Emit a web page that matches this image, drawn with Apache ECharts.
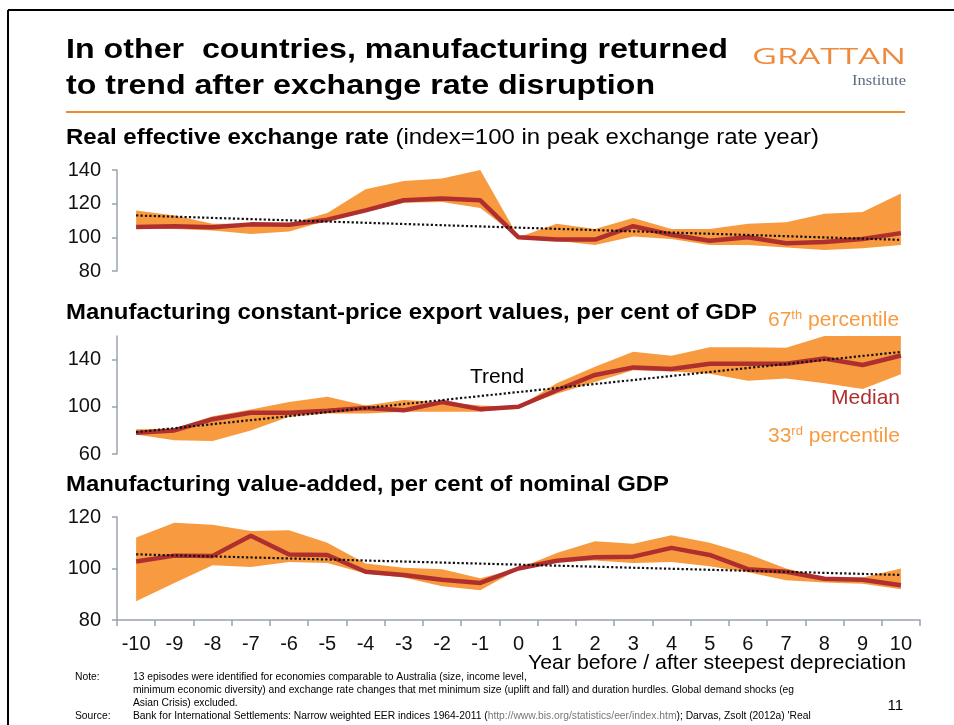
<!DOCTYPE html>
<html>
<head>
<meta charset="utf-8">
<script src="https://cdn.jsdelivr.net/npm/echarts@6/dist/echarts.min.js"></script>
<style>
  html, body { margin: 0; padding: 0; background: #fff; }
  #chart { width: 954px; height: 725px; }
</style>
</head>
<body>
<div id="chart"></div>
<script>
// years before / after steepest depreciation
const years = ['-10', '-9', '-8', '-7', '-6', '-5', '-4', '-3', '-2', '-1', '0',
  '1', '2', '3', '4', '5', '6', '7', '8', '9', '10'];

// Real effective exchange rate (index = 100 in peak year)
const reerMedian = [106.2, 106.6, 106, 107.7, 107.5, 110.5, 116, 122, 123, 122, 100,
  98.7, 98.7, 106.6, 101.5, 98, 100, 96.5, 97.2, 99, 102.5];
const reerP67 = [116, 113, 108, 108, 108, 114.5, 128.5, 133.5, 135, 140, 100,
  108, 105, 111.5, 105, 105, 108, 109, 114, 115, 126];
const reerP33 = [105, 105, 104, 102, 103.5, 110, 115, 120.5, 121, 117.5, 100,
  98, 95.5, 100.5, 99, 95.5, 95.5, 94, 92.5, 93.5, 95.5];
const reerTrend = [113, 98.5]; // at -10 and 10

// Manufacturing constant-price export values, per cent of GDP
const expMedian = [77.9, 80, 89.5, 95, 95, 96.6, 99, 97, 104, 98, 100,
  114, 127, 133.4, 132, 136.5, 136.5, 136.5, 141, 135.4, 143.5];
const expP67 = [81, 81.6, 92, 97.7, 104, 108.5, 101, 105.7, 104, 101, 100,
  120, 134, 146.7, 143.3, 150.4, 150.4, 150, 160, 160, 160];
const expP33 = [76.5, 71.7, 71, 80, 91.5, 94.3, 94.3, 95.7, 95.7, 95.7, 99,
  111, 121, 131, 130, 128, 122, 124, 120, 115, 127.5];
const expTrend = [78.5, 146.5];

// Manufacturing value-added, per cent of nominal GDP
const vaMedian = [102.75, 105, 104.9, 112.75, 105.4, 105.25, 98.75, 97.5, 95.6, 94.4, 100,
  103, 104.4, 104.6, 108, 105.25, 99.75, 98.75, 96, 95.6, 93.5];
const vaP67 = [112, 117.75, 117, 114.6, 114.9, 110, 101.9, 100.25, 99.75, 96.25, 100,
  106, 110.6, 109.6, 112.9, 110, 105.6, 100, 96.5, 96.5, 100];
const vaP33 = [87.25, 94.4, 101.25, 100.6, 102.5, 102.1, 98.1, 96.5, 93.1, 91.6, 99.75,
  102.5, 103.1, 102.1, 102.5, 100.9, 98.5, 95.4, 94.6, 94.1, 91.9];
const vaTrend = [105.5, 97.5];

const BAND = '#F89B40';
const MEDIAN = '#AE2F2D';
const AXIS = '#9aa3b0';
const FONT = '"Liberation Sans", Arial, sans-serif';
const NARROW = '"Liberation Sans Narrow", "Liberation Sans", Arial, sans-serif';

const chart = echarts.init(document.getElementById('chart'));

// text in the slide is a bit wider than the plain font, so stretch to a target width
const measureCtx = document.createElement('canvas').getContext('2d');
function textWidth(font, text) {
  measureCtx.font = font;
  return measureCtx.measureText(text).width;
}

function trendLine(ends) {
  const arr = years.map(() => null);
  arr[0] = ends[0];
  arr[arr.length - 1] = ends[1];
  return arr;
}

function panelSeries(idx, median, p67, p33, trend) {
  const spread = p67.map((v, i) => +(v - p33[i]).toFixed(2));
  return [
    {
      type: 'line', xAxisIndex: idx, yAxisIndex: idx, stack: 'band' + idx,
      data: p33, symbol: 'none', lineStyle: { width: 0, opacity: 0 }, silent: true, z: 1
    },
    {
      type: 'line', xAxisIndex: idx, yAxisIndex: idx, stack: 'band' + idx,
      data: spread, symbol: 'none', lineStyle: { width: 0, opacity: 0 },
      areaStyle: { color: BAND, opacity: 1 }, silent: true, z: 1
    },
    {
      type: 'line', xAxisIndex: idx, yAxisIndex: idx, data: median, symbol: 'none',
      lineStyle: { color: MEDIAN, width: 4.5 }, z: 3
    },
    {
      type: 'line', xAxisIndex: idx, yAxisIndex: idx, data: trendLine(trend), connectNulls: true,
      symbol: 'none', lineStyle: { color: '#111', width: 2.2, type: [2.2, 2.2] }, z: 4
    }
  ];
}

function xAxis(idx, show) {
  return {
    type: 'category', gridIndex: idx, data: years, boundaryGap: true,
    axisLine: { show: show, lineStyle: { color: AXIS, width: 1.5 } },
    axisTick: { show: show, alignWithLabel: false, length: 6, lineStyle: { color: AXIS, width: 1.5 } },
    axisLabel: { show: show, color: '#111', fontSize: 20, fontFamily: FONT, margin: 14 },
    splitLine: { show: false }
  };
}

function yAxis(idx, min, max, ticks) {
  return {
    type: 'value', gridIndex: idx, min: min, max: max,
    axisLine: { show: true, lineStyle: { color: AXIS, width: 1.5 } },
    axisTick: { show: true, length: 5, customValues: ticks, lineStyle: { color: AXIS, width: 1.5 } },
    axisLabel: { color: '#111', fontSize: 20, fontFamily: FONT, margin: 16, customValues: ticks },
    splitLine: { show: false }
  };
}

function label(x, y, text, opts) {
  return {
    type: 'text', x: x, y: y, silent: true,
    style: Object.assign({ text: text, fill: '#000', font: '20px ' + FONT, verticalAlign: 'middle', textVerticalAlign: 'middle' }, opts || {})
  };
}

// left-anchored text stretched to a given width
function fitLabel(x, y, text, font, width, opts) {
  const el = label(x, y, text, Object.assign({ font: font }, opts || {}));
  el.scaleX = width / textWidth(font, text);
  return el;
}

const subBold = 'bold 22px ' + FONT;
const subNorm = '22px ' + FONT;
const sub1a = 'Real effective exchange rate';
const sub1b = ' (index=100 in peak exchange rate year)';
const sub1Scale = 753 / (textWidth(subBold, sub1a) + textWidth(subNorm, sub1b));

const option = {
  animation: false,
  backgroundColor: '#fff',
  grid: [
    { left: 117, right: 34, top: 170, height: 101 },
    { left: 117, right: 34, top: 336, height: 118 },
    { left: 117, right: 34, top: 517, height: 103 }
  ],
  xAxis: [xAxis(0, false), xAxis(1, false), xAxis(2, true)],
  yAxis: [
    yAxis(0, 80, 140, [80, 100, 120, 140]),
    yAxis(1, 60, 160, [60, 100, 140]),
    yAxis(2, 80, 120, [80, 100, 120])
  ],
  series: [].concat(
    panelSeries(0, reerMedian, reerP67, reerP33, reerTrend),
    panelSeries(1, expMedian, expP67, expP33, expTrend),
    panelSeries(2, vaMedian, vaP67, vaP33, vaTrend)
  ),
  graphic: [
    // slide frame
    { type: 'line', silent: true, shape: { x1: 8, y1: 10, x2: 954, y2: 10 }, style: { stroke: '#000', lineWidth: 2 } },
    { type: 'line', silent: true, shape: { x1: 8, y1: 10, x2: 8, y2: 725 }, style: { stroke: '#000', lineWidth: 2 } },
    // headline
    fitLabel(66, 51, 'In other  countries, manufacturing returned', 'bold 27px ' + FONT, 662),
    fitLabel(66, 87, 'to trend after exchange rate disruption', 'bold 27px ' + FONT, 589),
    { type: 'line', silent: true, shape: { x1: 66, y1: 112, x2: 905, y2: 112 }, style: { stroke: '#EE8A2E', lineWidth: 2 } },
    // logo
    fitLabel(752, 58, 'GRATTAN', '22px "Open Sans", ' + FONT, 154, { fill: '#EE8A3E' }),
    fitLabel(852, 81, 'Institute', '14px "Liberation Serif", serif', 54, { fill: '#5b6b80' }),
    // panel titles
    {
      type: 'text', x: 66, y: 138, scaleX: sub1Scale, silent: true,
      style: {
        text: '{b|' + sub1a + '}{n|' + sub1b + '}',
        verticalAlign: 'middle', textVerticalAlign: 'middle',
        rich: {
          b: { fontWeight: 'bold', fontSize: 22, fontFamily: FONT, fill: '#000', color: '#000' },
          n: { fontSize: 22, fontFamily: FONT, fill: '#000', color: '#000' }
        }
      }
    },
    fitLabel(66, 313, 'Manufacturing constant-price export values, per cent of GDP', subBold, 691),
    fitLabel(66, 485, 'Manufacturing value-added, per cent of nominal GDP', subBold, 603),
    // annotations
    {
      type: 'text', x: 768, y: 320, silent: true,
      style: {
        text: '{a|67}{s|th}{a| percentile}', verticalAlign: 'middle', textVerticalAlign: 'middle',
        rich: {
          a: { fontSize: 21, fontFamily: FONT, fill: BAND, color: BAND, lineHeight: 23 },
          s: { fontSize: 13, fontFamily: FONT, fill: BAND, color: BAND, verticalAlign: 'top', lineHeight: 23, padding: [0, 0, 6, 0] }
        }
      }
    },
    {
      type: 'text', x: 768, y: 436, silent: true,
      style: {
        text: '{a|33}{s|rd}{a| percentile}', verticalAlign: 'middle', textVerticalAlign: 'middle',
        rich: {
          a: { fontSize: 21, fontFamily: FONT, fill: BAND, color: BAND, lineHeight: 23 },
          s: { fontSize: 13, fontFamily: FONT, fill: BAND, color: BAND, verticalAlign: 'top', lineHeight: 23, padding: [0, 0, 6, 0] }
        }
      }
    },
    label(900, 398, 'Median', { font: '21px ' + FONT, fill: MEDIAN, align: 'right', textAlign: 'right' }),
    label(470, 377, 'Trend', { font: '21px ' + FONT, fill: '#000' }),
    fitLabel(528, 663, 'Year before / after steepest depreciation', '21px ' + FONT, 378),
    // notes
    label(75, 677, 'Note:', { font: '10.3px ' + NARROW }),
    label(133, 677, '13 episodes were identified for economies comparable to Australia (size, income level,', { font: '10.3px ' + NARROW }),
    label(133, 690, 'minimum economic diversity) and exchange rate changes that met minimum size (uplift and fall) and duration hurdles. Global demand shocks (eg', { font: '10.3px ' + NARROW }),
    label(133, 703, 'Asian Crisis) excluded.', { font: '10.3px ' + NARROW }),
    label(75, 716, 'Source:', { font: '10.3px ' + NARROW }),
    {
      type: 'text', x: 133, y: 716, silent: true,
      style: {
        text: '{t|Bank for International Settlements: Narrow weighted EER indices 1964-2011 (}{u|http://www.bis.org/statistics/eer/index.htm}{t|); Darvas, Zsolt (2012a) \'Real}',
        verticalAlign: 'middle', textVerticalAlign: 'middle',
        rich: {
          t: { fontSize: 10.3, fontFamily: NARROW, fill: '#000', color: '#000' },
          u: { fontSize: 10.3, fontFamily: NARROW, fill: '#777', color: '#777', textDecoration: 'underline' }
        }
      }
    },
    label(903, 706, '11', { font: '15px ' + FONT, align: 'right', textAlign: 'right' })
  ]
};

chart.setOption(option);
</script>
</body>
</html>
